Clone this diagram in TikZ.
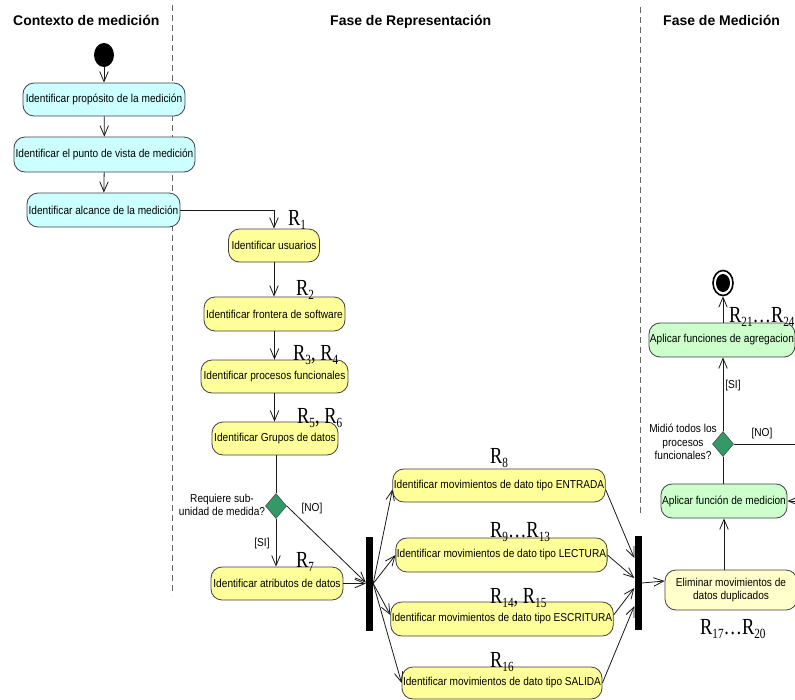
\documentclass[tikz,border=0pt]{standalone}
\usepackage{fontspec}
\setmainfont{Liberation Sans}
\newfontfamily\boxfont[FakeStretch=0.88]{Liberation Sans}
\newfontfamily\rfont[FakeStretch=0.8]{Liberation Serif}
\usetikzlibrary{arrows.meta,shapes.geometric}

\definecolor{ctxfill}{HTML}{CCFFFF}
\definecolor{repfill}{HTML}{FFFF99}
\definecolor{dupfill}{HTML}{FFFFCC}
\definecolor{medfill}{HTML}{CCFFCC}
\definecolor{gatefill}{HTML}{339966}

% requirement tag: R with a lowered index
\newcommand{\rlab}[1]{R\raisebox{-4pt}{\fontsize{14}{14}\selectfont #1}}

\tikzset{
  act/.style={draw=black!75, line width=0.8pt, rounded corners=11pt,
    minimum height=33pt, inner sep=1pt,
    font={\boxfont\fontsize{11.5}{13.5}\selectfont}},
  ctx/.style={act, fill=ctxfill},
  rep/.style={act, fill=repfill},
  dup/.style={act, fill=dupfill},
  med/.style={act, fill=medfill},
  flow/.style={draw=black!90, line width=0.8pt},
  arr/.style={flow, -{Straight Barb[length=10pt,width=8.5pt]}},
  gate/.style={diamond, draw=black!70, line width=0.6pt, fill=gatefill,
    minimum width=21pt, minimum height=25pt, inner sep=0pt},
  barnode/.style={fill=black, inner sep=0pt, minimum width=7pt, minimum height=94pt},
  lane/.style={draw=black!60, line width=1pt, dash pattern=on 6pt off 4pt},
  rtag/.style={font={\rfont\fontsize{23}{23}\selectfont}, inner sep=0pt, anchor=base west},
  guard/.style={font={\boxfont\fontsize{11.5}{13.5}\selectfont}, inner sep=0pt, align=center},
  hdr/.style={font={\bfseries\fontsize{14}{16}\selectfont}, inner sep=0pt, anchor=base west}
}

\begin{document}
\begin{tikzpicture}[x=1pt, y=-1pt]
\useasboundingbox (0,0) rectangle (795,699);
\clip (0,0) rectangle (795,699);

% swimlane separators and titles
\draw[lane] (172,5) -- (172,595);
\draw[lane] (640,7) -- (640,513);
\node[hdr] (h1) at (13,25) {Contexto de medición};
\node[hdr] (h2) at (330,25) {Fase de Representación};
\node[hdr] (h3) at (663,25) {Fase de Medición};

% measurement context
\node[ellipse, fill=black, minimum width=20pt, minimum height=24pt, inner sep=0pt] (start) at (104,55) {};
\node[ctx, minimum width=162pt] (prop) at (104,99.5) {Identificar propósito de la medición};
\node[ctx, minimum width=181pt, minimum height=35pt] (punto) at (104.5,154.5) {Identificar el punto de vista de medición};
\node[ctx, minimum width=153pt, minimum height=34pt] (alcance) at (103.5,210) {Identificar alcance de la medición};

% representation phase
\node[rep, minimum width=91pt] (usuarios) at (274,245.5) {Identificar usuarios};
\node[rep, minimum width=141pt, minimum height=34pt] (frontera) at (274.5,314) {Identificar frontera de software};
\node[rep, minimum width=147pt] (procesos) at (274.5,376.5) {Identificar procesos funcionales};
\node[rep, minimum width=126pt] (grupos) at (275,438.5) {Identificar Grupos de datos};
\node[gate] (gsub) at (276,506) {};
\node[rep, minimum width=132pt] (atributos) at (277,583.5) {Identificar atributos de datos};

\node[barnode] (fork1) at (369.5,583.5) {};
\node[rep, minimum width=212pt] (entrada) at (499,485.5) {Identificar movimientos de dato tipo ENTRADA};
\node[rep, minimum width=211pt, minimum height=34pt] (lectura) at (501.5,555) {Identificar movimientos de dato tipo LECTURA};
\node[rep, minimum width=220pt, minimum height=34pt] (escritura) at (502,619) {Identificar movimientos de dato tipo ESCRITURA};
\node[rep, minimum width=200pt, minimum height=32pt] (salida) at (502,683) {Identificar movimientos de dato tipo SALIDA};
\node[barnode] (fork2) at (638,583) {};

% measurement phase
\node[dup, minimum width=132pt, minimum height=40pt, align=center] (elim) at (731,590) {Eliminar movimientos de\\datos duplicados};
\node[med, minimum width=126pt, minimum height=34pt] (funcion) at (724,501) {Aplicar función de medicion};
\node[gate] (gall) at (723,444) {};
\node[med, minimum width=146pt, minimum height=34pt] (agreg) at (722,340) {Aplicar funciones de agregacion};
\node[ellipse, draw=black, line width=1.6pt, fill=white, minimum width=20pt, minimum height=25pt, inner sep=0pt] (stop) at (723,283) {};
\node[ellipse, fill=black, minimum width=14pt, minimum height=18pt, inner sep=0pt] (stopdot) at (stop.center) {};

% guard and decision texts
\node[guard] (qsub) at (222,505) {Requiere sub-\\unidad de medida?};
\node[guard] (qall) at (683,442) {Midió todos los\\procesos\\funcionales?};
\node[guard] (si1) at (262,544) {[SI]};
\node[guard] (no1) at (312,509) {[NO]};
\node[guard] (si2) at (733,386) {[SI]};
\node[guard] (no2) at (762,434) {[NO]};

% requirement tags
\node[rtag] (r1) at (288,225) {\rlab{1}};
\node[rtag] (r2) at (296,295) {\rlab{2}};
\node[rtag] (r34) at (293,360) {\rlab{3}, \rlab{4}};
\node[rtag] (r56) at (297,423) {\rlab{5}, \rlab{6}};
\node[rtag] (r7) at (296,567) {\rlab{7}};
\node[rtag] (r8) at (490,463) {\rlab{8}};
\node[rtag] (r913) at (490,537) {\rlab{9}…\rlab{13}};
\node[rtag] (r1415) at (490,603) {\rlab{14}, \rlab{15}};
\node[rtag] (r16) at (490,667) {\rlab{16}};
\node[rtag] (r1720) at (700,634) {\rlab{17}…\rlab{20}};
\node[rtag] (r2124) at (729,322) {\rlab{21}…\rlab{24}};

% control flow
\draw[arr] (start) -- (prop);
\draw[arr] (prop) -- (punto);
\draw[arr] (punto) -- (alcance);
\draw[arr] (alcance.east) -| (usuarios.north);
\draw[arr] (usuarios.south) -- (usuarios.south |- frontera.north);
\draw[arr] (frontera.south) -- (frontera.south |- procesos.north);
\draw[arr] (procesos.south) -- (procesos.south |- grupos.north);
\draw[flow] (gsub.north |- grupos.south) -- (gsub.north);
\draw[arr] (gsub.south) -- (gsub.south |- atributos.north);
\draw[arr] (gsub.east) -- ([yshift=1pt]fork1.west);
\draw[arr] (atributos.east) -- (atributos.east -| fork1.west);

\draw[arr] (fork1.east) -- ([yshift=-4pt]entrada.west);
\draw[arr] (fork1.east) -- (lectura.west);
\draw[arr] (fork1.east) -- ([yshift=4pt]escritura.west);
\draw[arr] (fork1.east) -- (salida.west);

\draw[arr] ([yshift=-4pt]entrada.east) -- ([yshift=25pt]fork2.west);
\draw[arr] (lectura.east) -- ([yshift=5pt]fork2.west);
\draw[arr] ([yshift=4pt]escritura.east) -- ([yshift=-5pt]fork2.west);
\draw[arr] (salida.east) -- ([yshift=-23pt]fork2.west);
\draw[arr] (fork2.east) -- ([yshift=9pt]elim.west);

\draw[arr] (funcion.south |- elim.north) -- (funcion.south);
\draw[flow] (funcion.north) -- (funcion.north -| gall.south) -- (gall.south);
\draw[arr] (gall.north) -- (gall.north |- agreg.south);
\draw[arr] (gall.east) -- ++(90,0) |- (funcion.east);
\draw[arr] (agreg.north -| stop.south) -- (stop.south);
\end{tikzpicture}
\end{document}
